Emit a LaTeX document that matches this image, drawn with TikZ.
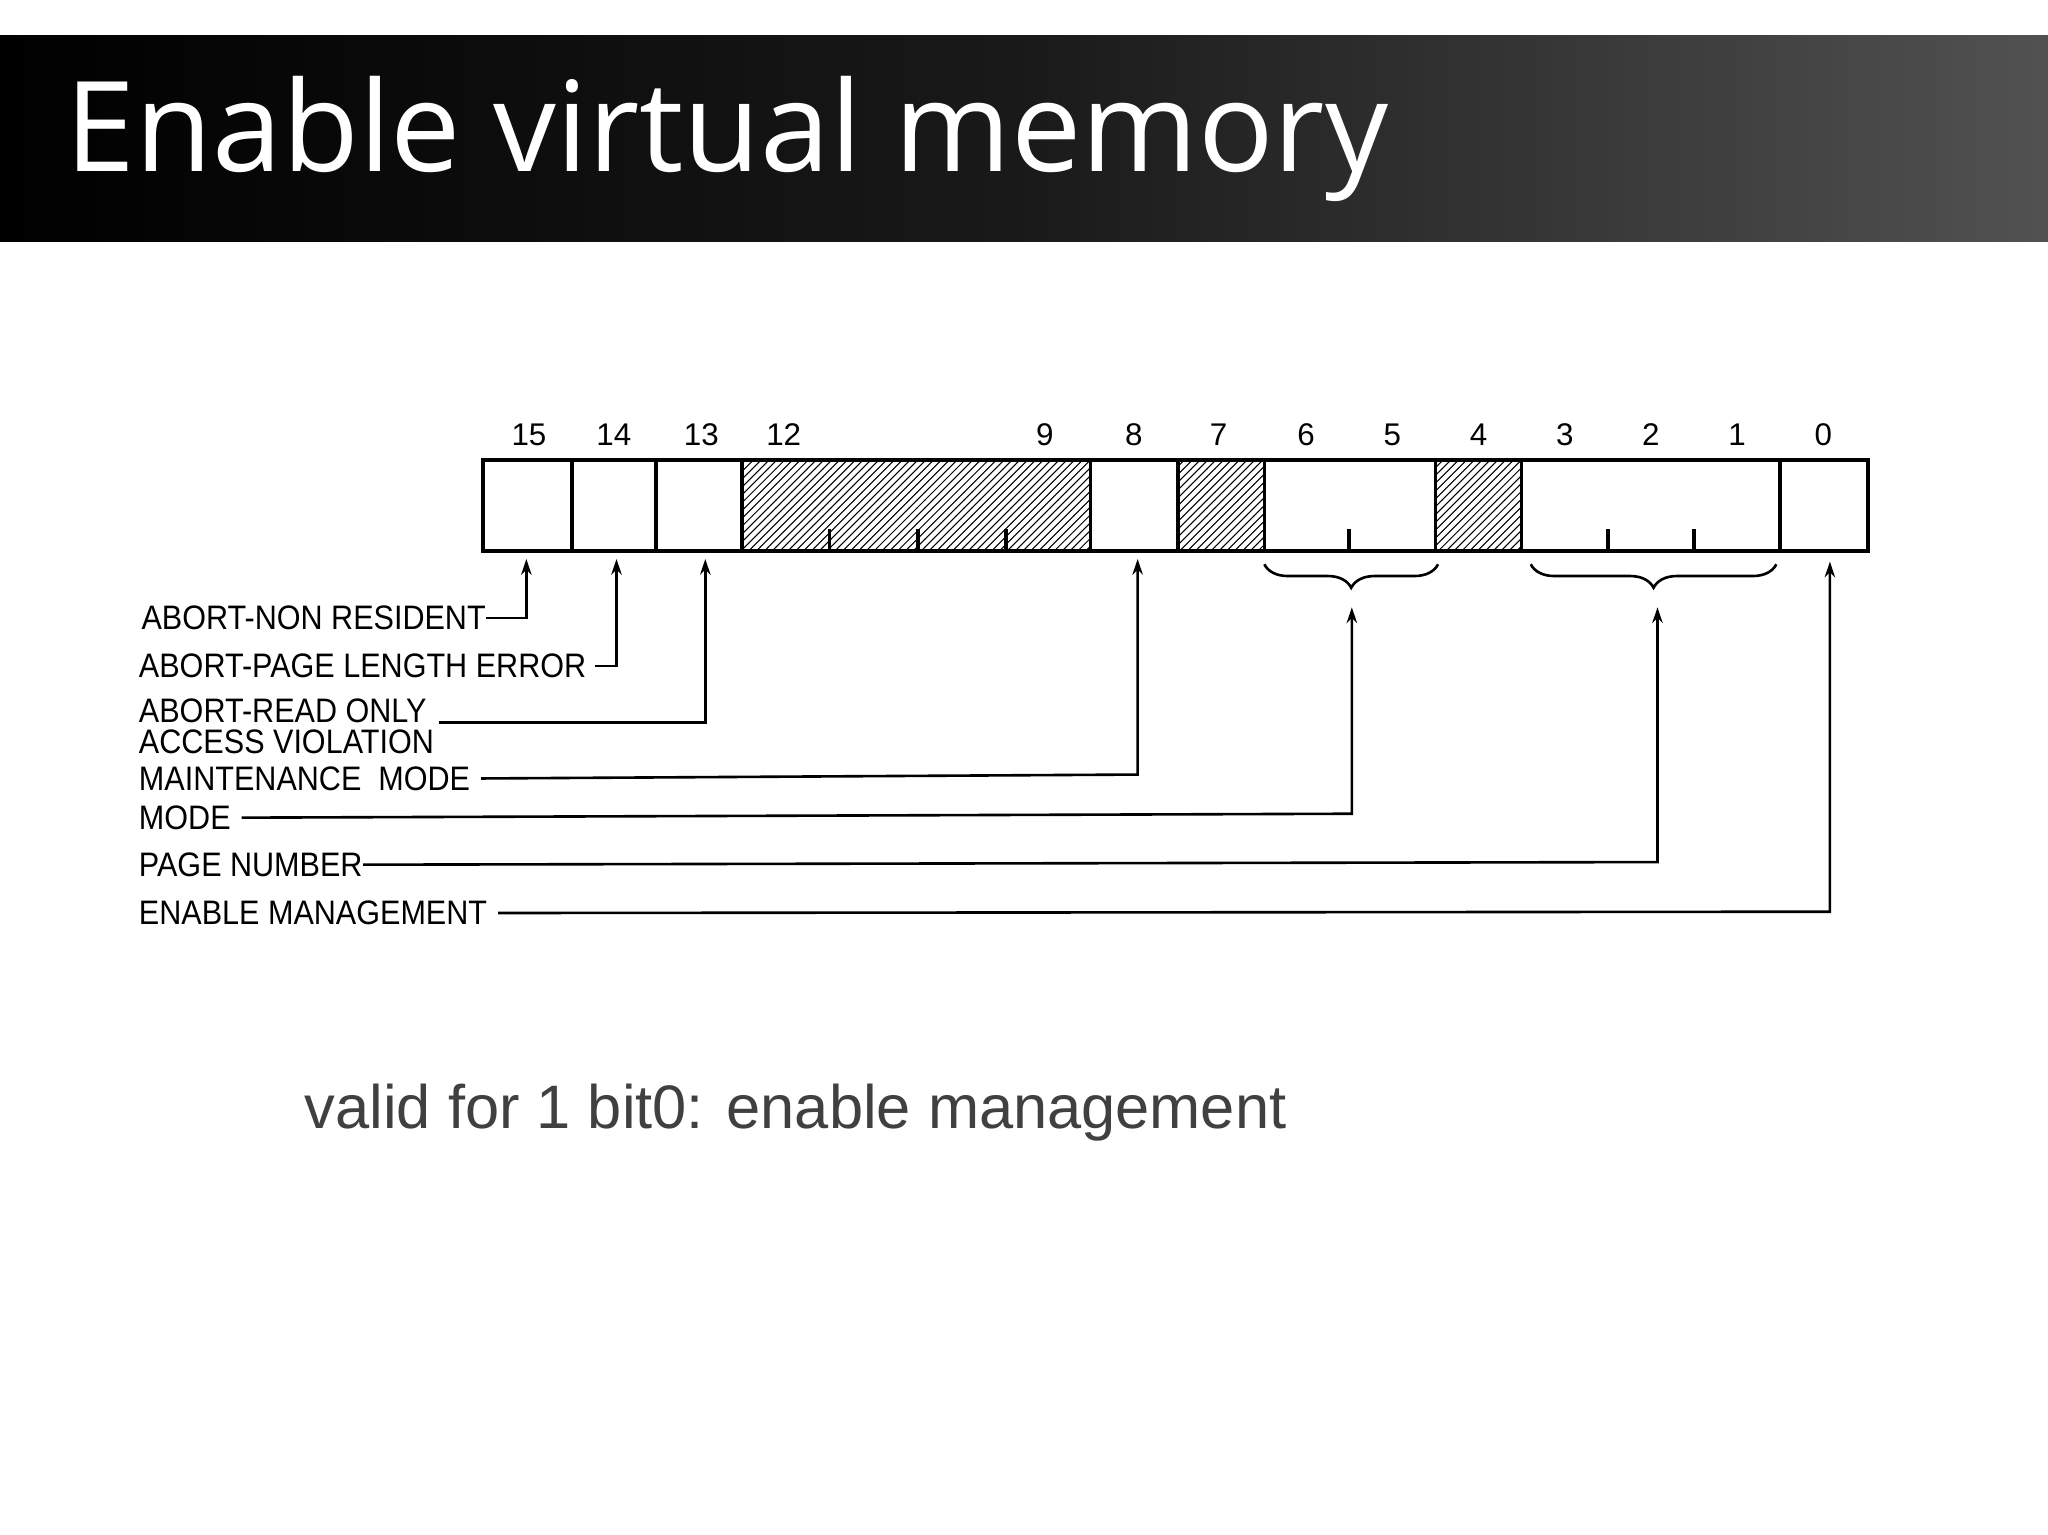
\documentclass[tikz,border=0pt]{standalone}
\usepackage{fontspec}
\setmainfont{Liberation Sans}
\newfontfamily\titlefont{Open Sans}
\usetikzlibrary{patterns,arrows.meta,decorations.pathreplacing}
\begin{document}
\begin{tikzpicture}[x=0.5pt,y=-0.5pt,
  lbl/.style={anchor=west,inner sep=0pt,font=\fontsize{13}{14}\selectfont},
  bitn/.style={inner sep=0pt,font=\fontsize{12}{13}\selectfont},
  arr/.style={line width=1pt,-{Stealth[length=6pt,width=4pt]}},
  fld/.style={draw,line width=1.4pt},
  hat/.style={fld,pattern=north east lines}]
\useasboundingbox (0,0) rectangle (1568,1175);
\shade[left color=black,right color=black!68,middle color=black!90] (0,27) rectangle (1568,185);
\node[anchor=west,inner sep=0pt,text=white,font=\titlefont\fontsize{48}{50}\selectfont] (title) at (50,106) {Enable virtual memory};
% register
\draw[fld] (370,352) rectangle (1430,422);
\foreach \x in {438,502,1363} \draw[line width=1.4pt] (\x,352)--(\x,422);
\draw[hat] (568,352) rectangle (835,422);
\draw[hat] (902,352) rectangle (968,422);
\draw[hat] (1099,352) rectangle (1165,422);
\foreach \x in {635,703,770,1033,1231,1297} \draw[line width=1.4pt] (\x,422)--(\x,405);
\foreach \n/\x in {15/405,14/470,13/537,12/600,9/800,8/868,7/933,6/1000,5/1066,4/1132,3/1198,2/1264,1/1330,0/1396}
  \node[bitn] (b\n) at (\x,333) {\n};
% braces
\draw[line width=1pt,decorate,decoration={brace,amplitude=9pt,mirror}] (968,432) -- (1101,432) coordinate[pos=0.5] (br1);
\draw[line width=1pt,decorate,decoration={brace,amplitude=9pt,mirror}] (1172,432) -- (1360,432);
\coordinate (t15) at (403,428); \coordinate (t14) at (472,428); \coordinate (t13) at (540,428);
\coordinate (t8) at (871,428); \coordinate (t65) at (1035,465); \coordinate (t31) at (1269,465);
\coordinate (t0) at (1401,430);
% labels
\node[lbl] (l1) at (108,473) {\scalebox{0.9}[1]{ABORT-NON RESIDENT}};
\node[lbl] (l2) at (106,510) {\scalebox{0.9}[1]{ABORT-PAGE LENGTH ERROR}};
\node[lbl,align=left] (l3) at (106,556) {\scalebox{0.9}[1]{ABORT-READ ONLY}\\[-2pt]\scalebox{0.9}[1]{ACCESS VIOLATION}};
\node[lbl] (l4) at (106,596) {\scalebox{0.9}[1]{MAINTENANCE\ \ MODE}};
\node[lbl] (l5) at (106,626) {\scalebox{0.9}[1]{MODE}};
\node[lbl] (l6) at (106,662) {\scalebox{0.9}[1]{PAGE NUMBER}};
\node[lbl] (l7) at (106,699) {\scalebox{0.9}[1]{ENABLE MANAGEMENT}};
\draw[arr] (l1.east) -- (403,473) -- (t15);
\draw[arr] ([xshift=3pt]l2.east) -- (472,510) -- (t14);
\draw[arr] (336,553) -- (540,553) -- (t13);
\draw[arr] ([xshift=4pt]l4.east) -- (871,593) -- (t8);
\draw[arr] ([xshift=4pt]l5.east) -- (1035,623) -- (t65);
\draw[arr] (l6.east) -- (1269,660) -- (t31);
\draw[arr] ([xshift=4pt]l7.east) -- (1401,698) -- (t0);
\node[anchor=west,inner sep=0pt,text=black!75,font=\fontsize{23.5}{26}\selectfont] (note) at (233,852) {valid for 1 bit0: enable management};
\end{tikzpicture}
\end{document}
